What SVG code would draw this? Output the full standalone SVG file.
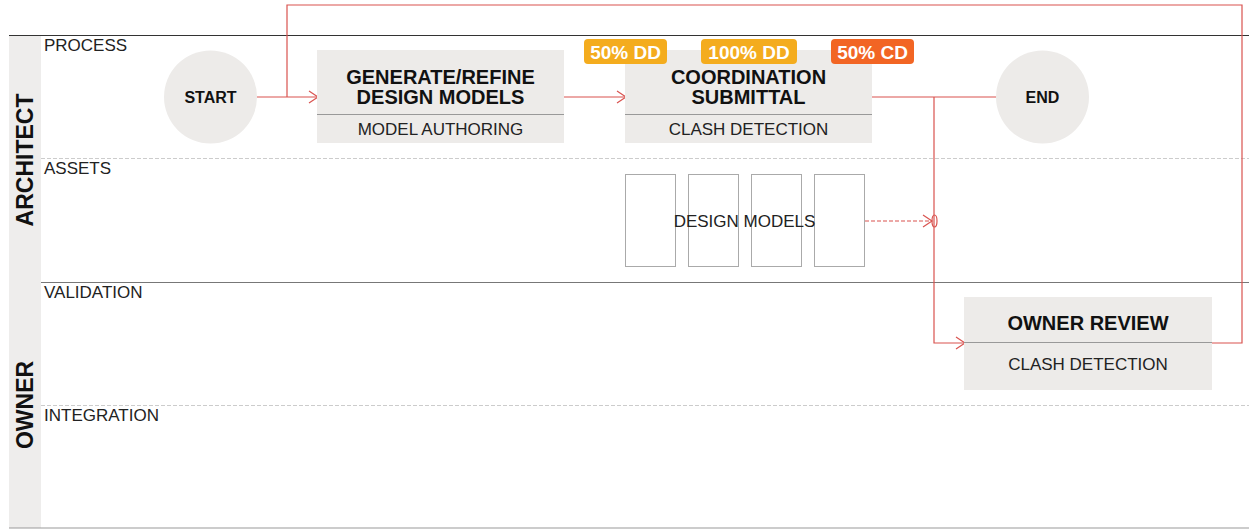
<svg xmlns="http://www.w3.org/2000/svg" width="1249" height="529" viewBox="0 0 1249 529">
<style>
text{font-family:"Liberation Sans",Arial,sans-serif;}
.lane{font-size:17px;fill:#222;}
.hdr{font-size:23px;font-weight:bold;fill:#111;}
.box{fill:#EDEBE9;}
.ttl{font-size:20px;font-weight:bold;fill:#111;text-anchor:middle;}
.sub{font-size:17px;fill:#222;text-anchor:middle;}
.div{stroke:#999;stroke-width:1;}
.circ{font-size:16px;font-weight:bold;fill:#111;text-anchor:middle;}
.badge{font-size:19px;font-weight:bold;fill:#fff;text-anchor:middle;}
.conn{fill:none;stroke:#D9534F;stroke-width:1.2;}
.dash{stroke:#ccc;stroke-width:1;stroke-dasharray:4,2;}
.asset{fill:#fff;stroke:#aaa;stroke-width:1;}
</style>
<defs>
<marker id="arr" viewBox="-11 -8 13 16" refX="0" refY="0" markerWidth="13" markerHeight="16" orient="auto" markerUnits="userSpaceOnUse">
<path d="M-9,-6 L0,0 L-9,6" fill="none" stroke="#D9534F" stroke-width="1.2"/>
</marker>
</defs>
<rect width="1249" height="529" fill="#fff"/>
<g id="lanes">
<rect x="9" y="35" width="32" height="493" fill="#EEEDEC"/>
<line x1="9" y1="35.5" x2="1249" y2="35.5" stroke="#333" stroke-width="1"/>
<line x1="41" y1="158.5" x2="1249" y2="158.5" class="dash"/>
<line x1="41" y1="282.5" x2="1249" y2="282.5" stroke="#777" stroke-width="1"/>
<line x1="41" y1="405.5" x2="1249" y2="405.5" class="dash"/>
<line x1="9" y1="528" x2="1249" y2="528" stroke="#999" stroke-width="1.2"/>
<text class="hdr" transform="translate(33,160) rotate(-90)" text-anchor="middle">ARCHITECT</text>
<text class="hdr" transform="translate(33,405) rotate(-90)" text-anchor="middle">OWNER</text>
<text class="lane" x="44" y="51">PROCESS</text>
<text class="lane" x="44" y="174">ASSETS</text>
<text class="lane" x="44" y="298">VALIDATION</text>
<text class="lane" x="44" y="421">INTEGRATION</text>
</g>
<g id="connectors">
<path class="conn" d="M257,97 L318,97" marker-end="url(#arr)"/>
<path class="conn" d="M1212,343 L1242,343 L1242,5 L287,5 L287,97"/>
<path class="conn" d="M564,97 L626,97" marker-end="url(#arr)"/>
<path class="conn" d="M872,97 L996,97"/>
<path class="conn" d="M934,97 L934,343 L965,343" marker-end="url(#arr)"/>
<path class="conn" d="M865,221 L932,221" stroke-dasharray="4,2" marker-end="url(#arr)"/>
<ellipse cx="934.5" cy="221" rx="2.5" ry="6" fill="none" stroke="#D9534F" stroke-width="1.2"/>
</g>
<g id="start">
<circle cx="210.5" cy="97" r="46.5" fill="#EDEBE9"/>
<text class="circ" x="210.5" y="103">START</text>
</g>
<g id="generate">
<rect class="box" x="317" y="50" width="247" height="93"/>
<line class="div" x1="317" y1="114.5" x2="564" y2="114.5"/>
<text class="ttl" x="440.5" y="84">GENERATE/REFINE</text>
<text class="ttl" x="440.5" y="104">DESIGN MODELS</text>
<text class="sub" x="440.5" y="135">MODEL AUTHORING</text>
</g>
<g id="coordination">
<rect class="box" x="625" y="50" width="247" height="93"/>
<line class="div" x1="625" y1="114.5" x2="872" y2="114.5"/>
<text class="ttl" x="748.5" y="84">COORDINATION</text>
<text class="ttl" x="748.5" y="104">SUBMITTAL</text>
<text class="sub" x="748.5" y="135">CLASH DETECTION</text>
</g>
<g id="badge-50dd">
<rect x="584" y="39" width="83" height="25" rx="4" fill="#F4AC1E"/>
<text class="badge" x="625.5" y="58.5">50% DD</text>
</g>
<g id="badge-100dd">
<rect x="701" y="39" width="96" height="25" rx="4" fill="#F4AC1E"/>
<text class="badge" x="749" y="58.5">100% DD</text>
</g>
<g id="badge-50cd">
<rect x="831" y="39" width="83" height="25" rx="4" fill="#F26524"/>
<text class="badge" x="872.5" y="58.5">50% CD</text>
</g>
<g id="end">
<circle cx="1042.5" cy="97" r="46.5" fill="#EDEBE9"/>
<text class="circ" x="1042.5" y="103">END</text>
</g>
<g id="design-models">
<rect class="asset" x="625.5" y="174.5" width="50" height="92"/>
<rect class="asset" x="688.5" y="174.5" width="50" height="92"/>
<rect class="asset" x="751.5" y="174.5" width="50" height="92"/>
<rect class="asset" x="814.5" y="174.5" width="50" height="92"/>
<text class="sub" x="744.5" y="227">DESIGN MODELS</text>
</g>
<g id="owner-review">
<rect class="box" x="964" y="297" width="248" height="93"/>
<line class="div" x1="964" y1="342.5" x2="1212" y2="342.5"/>
<text class="ttl" x="1088" y="330">OWNER REVIEW</text>
<text class="sub" x="1088" y="370">CLASH DETECTION</text>
</g>
</svg>
